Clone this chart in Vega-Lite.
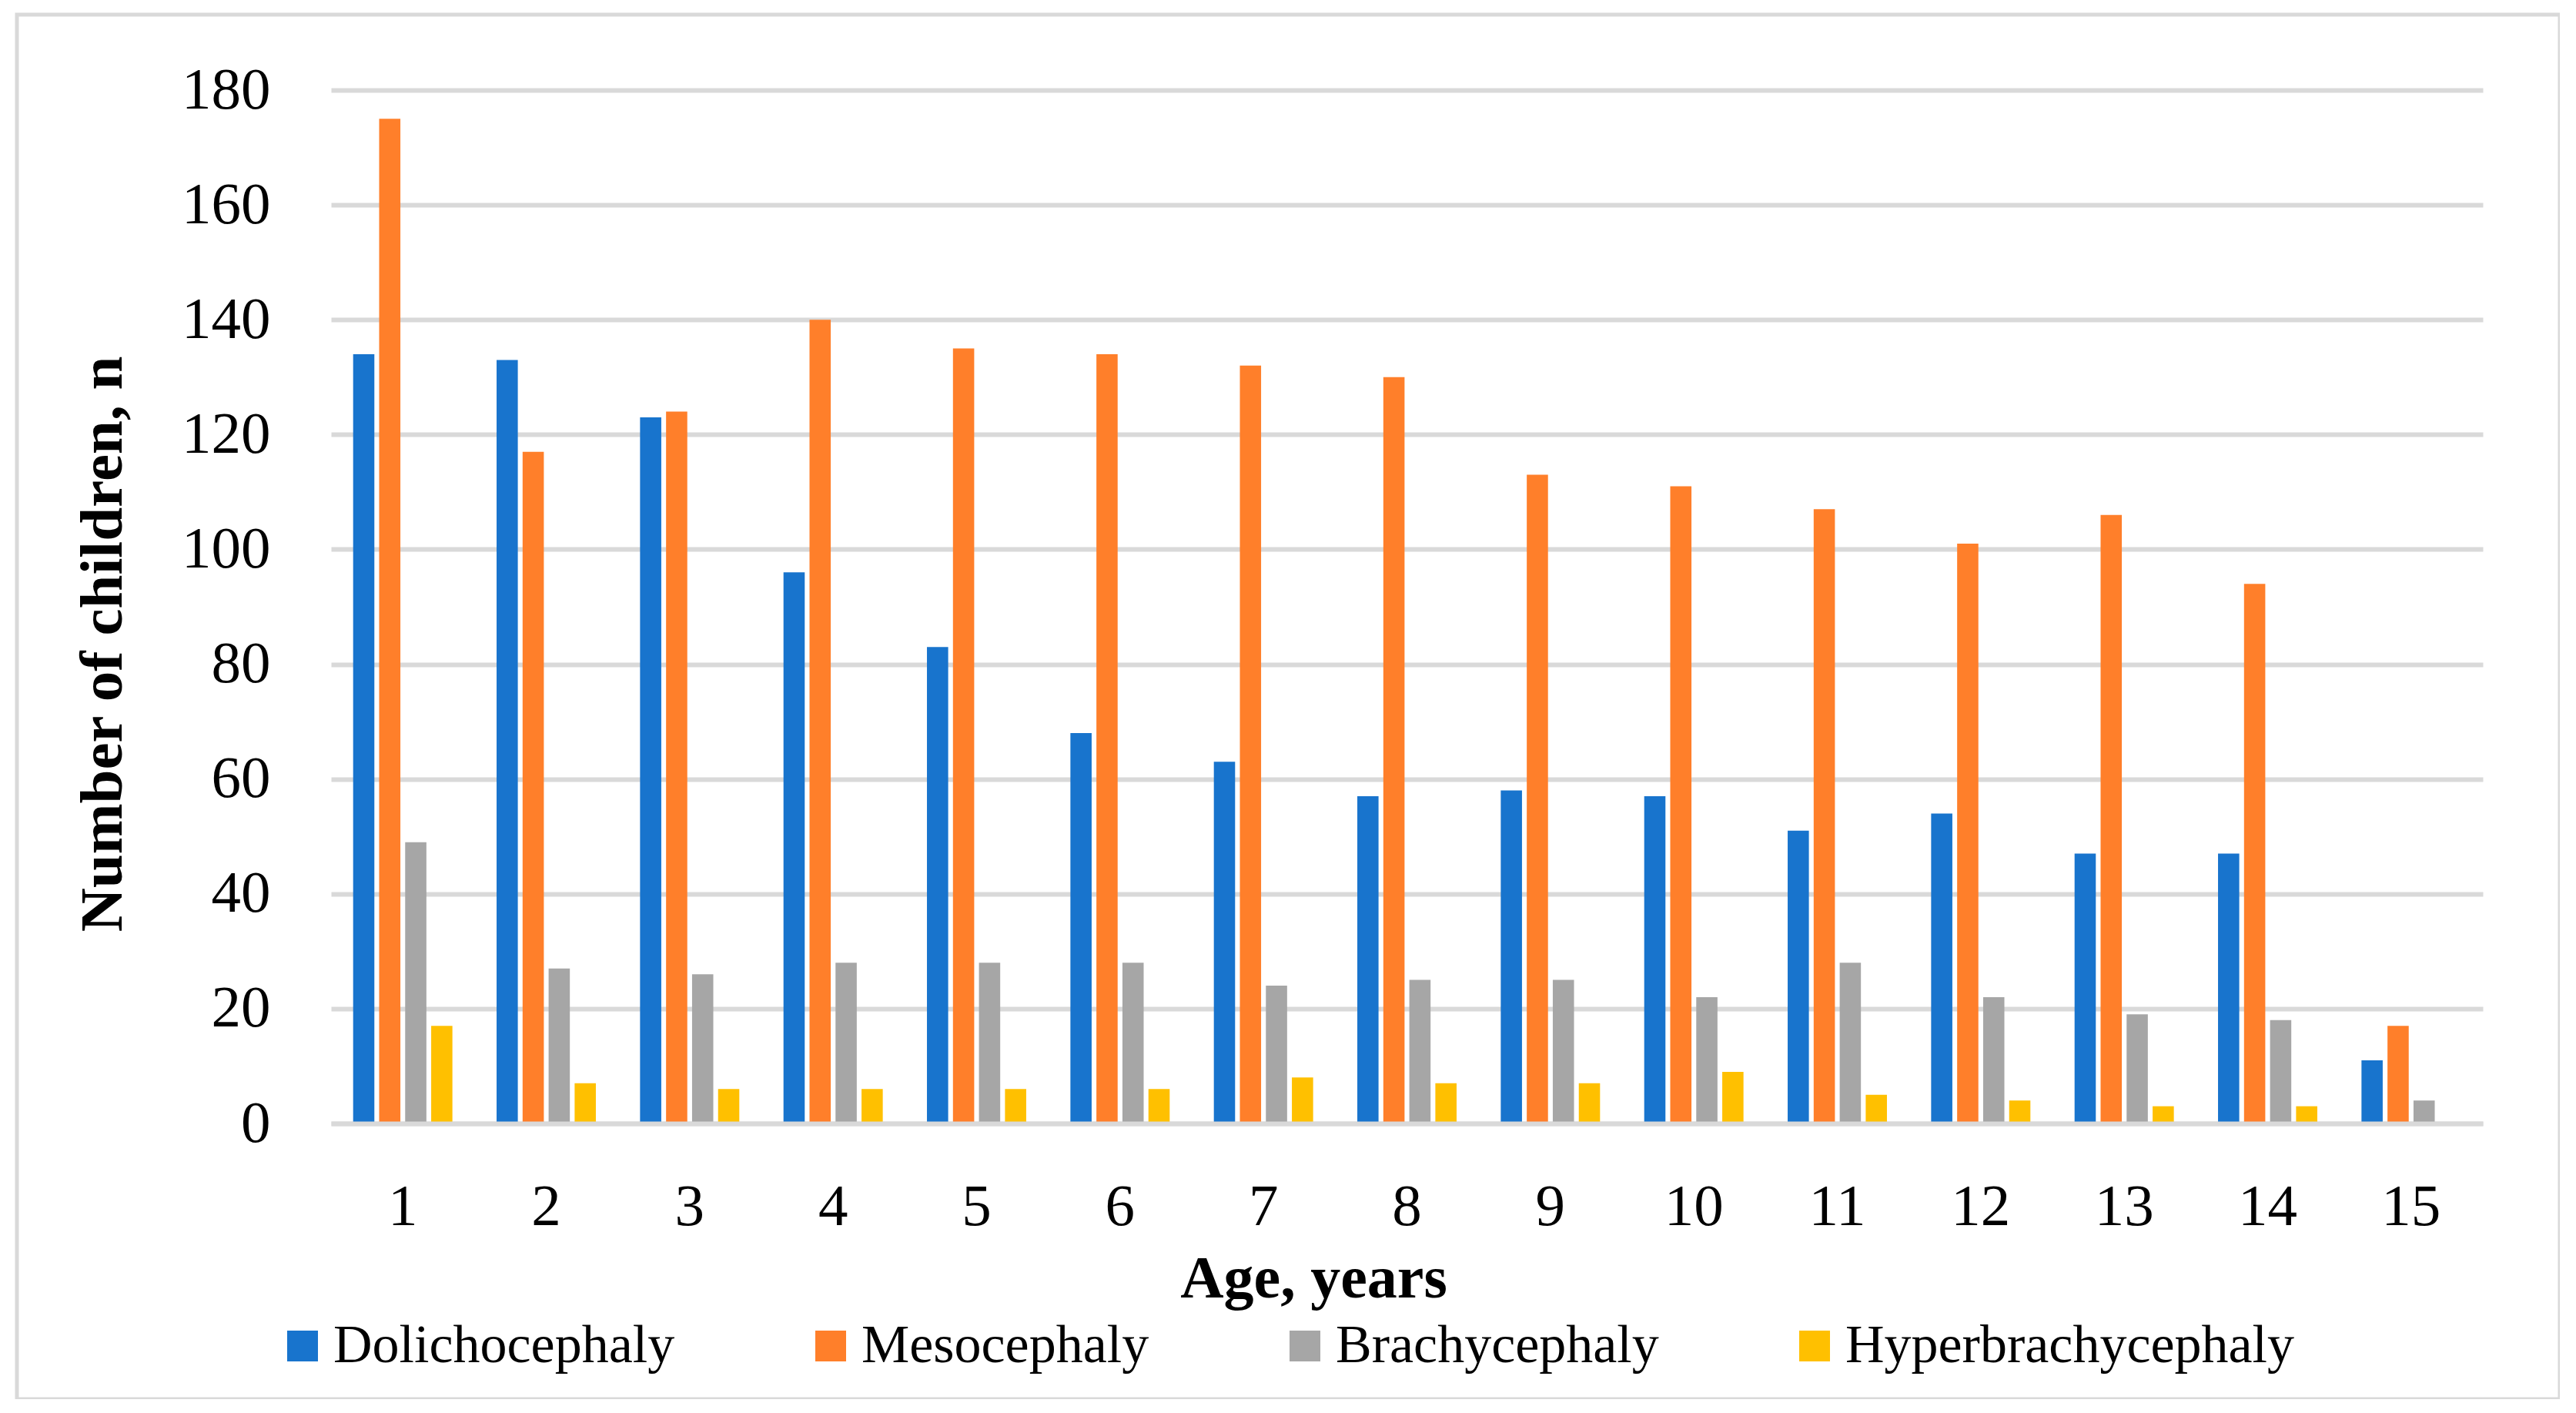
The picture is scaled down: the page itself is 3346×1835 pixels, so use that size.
{
  "$schema": "https://vega.github.io/schema/vega-lite/v6.json",
  "width": 3303,
  "height": 1798,
  "autosize": {"type": "none"},
  "padding": {"left": 22, "top": 19, "right": 0, "bottom": 0},
  "background": "white",
  "config": {
    "font": "Liberation Serif",
    "view": {"stroke": "#d9d9d9", "strokeWidth": 5},
    "axis": {"labelColor": "#000000", "titleColor": "#000000"}
  },
  "data": {
    "values": [
      {"age": 1, "type": "Dolichocephaly", "n": 134}, {"age": 1, "type": "Mesocephaly", "n": 175}, {"age": 1, "type": "Brachycephaly", "n": 49}, {"age": 1, "type": "Hyperbrachycephaly", "n": 17},
      {"age": 2, "type": "Dolichocephaly", "n": 133}, {"age": 2, "type": "Mesocephaly", "n": 117}, {"age": 2, "type": "Brachycephaly", "n": 27}, {"age": 2, "type": "Hyperbrachycephaly", "n": 7},
      {"age": 3, "type": "Dolichocephaly", "n": 123}, {"age": 3, "type": "Mesocephaly", "n": 124}, {"age": 3, "type": "Brachycephaly", "n": 26}, {"age": 3, "type": "Hyperbrachycephaly", "n": 6},
      {"age": 4, "type": "Dolichocephaly", "n": 96}, {"age": 4, "type": "Mesocephaly", "n": 140}, {"age": 4, "type": "Brachycephaly", "n": 28}, {"age": 4, "type": "Hyperbrachycephaly", "n": 6},
      {"age": 5, "type": "Dolichocephaly", "n": 83}, {"age": 5, "type": "Mesocephaly", "n": 135}, {"age": 5, "type": "Brachycephaly", "n": 28}, {"age": 5, "type": "Hyperbrachycephaly", "n": 6},
      {"age": 6, "type": "Dolichocephaly", "n": 68}, {"age": 6, "type": "Mesocephaly", "n": 134}, {"age": 6, "type": "Brachycephaly", "n": 28}, {"age": 6, "type": "Hyperbrachycephaly", "n": 6},
      {"age": 7, "type": "Dolichocephaly", "n": 63}, {"age": 7, "type": "Mesocephaly", "n": 132}, {"age": 7, "type": "Brachycephaly", "n": 24}, {"age": 7, "type": "Hyperbrachycephaly", "n": 8},
      {"age": 8, "type": "Dolichocephaly", "n": 57}, {"age": 8, "type": "Mesocephaly", "n": 130}, {"age": 8, "type": "Brachycephaly", "n": 25}, {"age": 8, "type": "Hyperbrachycephaly", "n": 7},
      {"age": 9, "type": "Dolichocephaly", "n": 58}, {"age": 9, "type": "Mesocephaly", "n": 113}, {"age": 9, "type": "Brachycephaly", "n": 25}, {"age": 9, "type": "Hyperbrachycephaly", "n": 7},
      {"age": 10, "type": "Dolichocephaly", "n": 57}, {"age": 10, "type": "Mesocephaly", "n": 111}, {"age": 10, "type": "Brachycephaly", "n": 22}, {"age": 10, "type": "Hyperbrachycephaly", "n": 9},
      {"age": 11, "type": "Dolichocephaly", "n": 51}, {"age": 11, "type": "Mesocephaly", "n": 107}, {"age": 11, "type": "Brachycephaly", "n": 28}, {"age": 11, "type": "Hyperbrachycephaly", "n": 5},
      {"age": 12, "type": "Dolichocephaly", "n": 54}, {"age": 12, "type": "Mesocephaly", "n": 101}, {"age": 12, "type": "Brachycephaly", "n": 22}, {"age": 12, "type": "Hyperbrachycephaly", "n": 4},
      {"age": 13, "type": "Dolichocephaly", "n": 47}, {"age": 13, "type": "Mesocephaly", "n": 106}, {"age": 13, "type": "Brachycephaly", "n": 19}, {"age": 13, "type": "Hyperbrachycephaly", "n": 3},
      {"age": 14, "type": "Dolichocephaly", "n": 47}, {"age": 14, "type": "Mesocephaly", "n": 94}, {"age": 14, "type": "Brachycephaly", "n": 18}, {"age": 14, "type": "Hyperbrachycephaly", "n": 3},
      {"age": 15, "type": "Dolichocephaly", "n": 11}, {"age": 15, "type": "Mesocephaly", "n": 17}, {"age": 15, "type": "Brachycephaly", "n": 4}, {"age": 15, "type": "Hyperbrachycephaly", "n": 0}
    ]
  },
  "mark": {"type": "bar"},
  "encoding": {
    "x": {
      "field": "age",
      "type": "ordinal",
      "scale": {"range": [408, 3203], "paddingInner": 0.308, "paddingOuter": 0.154},
      "axis": {
        "title": "Age, years",
        "offset": -358,
        "labelAngle": 0,
        "labelPadding": 70,
        "labelFontSize": 77,
        "ticks": false,
        "tickSize": 0,
        "domain": true,
        "domainColor": "#d9d9d9",
        "domainWidth": 6,
        "grid": false,
        "titleFontSize": 78,
        "titleFontWeight": "bold",
        "titleX": 1684,
        "titleY": 225,
        "titleAlign": "center",
        "titleBaseline": "alphabetic",
        "zindex": 1
      }
    },
    "xOffset": {
      "field": "type",
      "type": "nominal",
      "sort": ["Dolichocephaly", "Mesocephaly", "Brachycephaly", "Hyperbrachycephaly"],
      "scale": {"paddingInner": 0.184, "paddingOuter": 0}
    },
    "y": {
      "field": "n",
      "type": "quantitative",
      "scale": {"domain": [0, 180], "nice": false, "range": [1440, 98]},
      "axis": {
        "title": "Number of children, n",
        "values": [0, 20, 40, 60, 80, 100, 120, 140, 160, 180],
        "offset": -408,
        "domain": false,
        "ticks": false,
        "tickSize": 0,
        "labelPadding": 79,
        "labelFontSize": 77,
        "grid": true,
        "gridColor": "#d9d9d9",
        "gridWidth": 6,
        "titleFontSize": 79,
        "titleFontWeight": "bold",
        "titleAngle": 270,
        "titleX": -273,
        "titleY": 817,
        "titleAlign": "center",
        "titleBaseline": "alphabetic"
      }
    },
    "color": {
      "field": "type",
      "type": "nominal",
      "sort": ["Dolichocephaly", "Mesocephaly", "Brachycephaly", "Hyperbrachycephaly"],
      "scale": {
        "domain": ["Dolichocephaly", "Mesocephaly", "Brachycephaly", "Hyperbrachycephaly"],
        "range": ["#1874CD", "#FF7F2A", "#A6A6A6", "#FFC000"]
      },
      "legend": {
        "title": null,
        "orient": "none",
        "direction": "horizontal",
        "legendX": 336,
        "legendY": 1694,
        "padding": 0,
        "symbolType": "square",
        "symbolSize": 1600,
        "symbolStrokeWidth": 0,
        "labelOffset": 5,
        "labelFontSize": 70,
        "labelColor": "#000000",
        "labelLimit": 1000,
        "columnPadding": 167
      }
    }
  }
}
